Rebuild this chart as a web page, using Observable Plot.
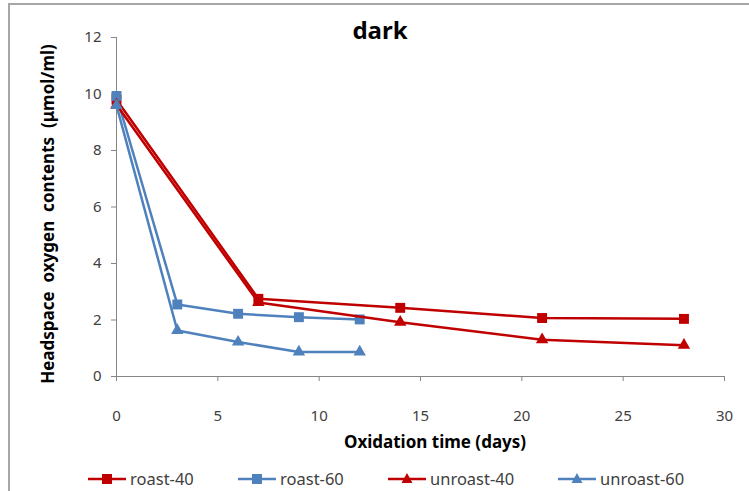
<!DOCTYPE html>
<html>
<head>
<meta charset="utf-8">
<script src="https://cdn.jsdelivr.net/npm/d3@7"></script>
<script src="https://cdn.jsdelivr.net/npm/@observablehq/plot@0.6"></script>
<style>
  html, body { margin: 0; padding: 0; background: #fff; }
  #wrap { position: relative; width: 749px; height: 491px; overflow: hidden; font-family: "Noto Sans", sans-serif; }
  #frame { position: absolute; left: 8px; top: 3px; width: 760px; height: 520px; border-top: 2px solid #a6a6a6; border-left: 2px solid #a6a6a6; box-sizing: border-box; }
  #title { position: absolute; left: 0; width: 760px; top: 13px; text-align: center; font-weight: bold; font-size: 24px; color: #000; }
  #ylab { position: absolute; left: 47px; top: 214px; transform: translate(-50%, -50%) rotate(-90deg); white-space: pre; font-weight: bold; font-size: 17px; color: #000; }
  #xlab { position: absolute; left: 435px; top: 441px; transform: translate(-50%, -50%); white-space: pre; font-weight: bold; font-size: 17px; color: #000; }
  #chart { position: absolute; left: 0; top: 0; }
  #chart svg text { fill: #404040; }
  #chart svg [aria-label$="tick"] path, #chart svg .tick line { stroke: #868686; }
  .leg { position: absolute; top: 467px; display: flex; align-items: center; font-size: 16.5px; color: #404040; }
  .leg svg { margin-right: 2px; }
</style>
</head>
<body>
<div id="wrap">
  <div id="frame"></div>
  <div id="chart"></div>
  <div id="title">dark</div>
  <div id="ylab">Headspace  oxygen  contents  (μmol/ml)</div>
  <div id="xlab">Oxidation time (days)</div>
  <div id="legend"></div>
</div>
<script>
const seriesNames = ["roast-40", "roast-60", "unroast-40", "unroast-60"];
const seriesColors = ["#C00000", "#4F81BD", "#C00000", "#4F81BD"];
const seriesSymbols = ["square", "square", "triangle", "triangle"];
const days40 = [0, 7, 14, 21, 28];
const days60 = [0, 3, 6, 9, 12];
const roast40 = [9.8, 2.75, 2.43, 2.07, 2.04];
const roast60 = [9.93, 2.55, 2.22, 2.1, 2.02];
const unroast40 = [9.62, 2.62, 1.92, 1.3, 1.11];
const unroast60 = [9.6, 1.63, 1.22, 0.87, 0.87];
const xTicks = [0, 5, 10, 15, 20, 25, 30];
const yTicks = [0, 2, 4, 6, 8, 10, 12];

const seriesDays = [days40, days60, days40, days60];
const seriesVals = [roast40, roast60, unroast40, unroast60];
const data = [];
seriesNames.forEach((name, i) => {
  seriesDays[i].forEach((d, j) => data.push({series: name, day: d, value: seriesVals[i][j], k: i}));
});

const marks = [
  Plot.ruleX([0], {stroke: "#868686", strokeWidth: 1}),
  Plot.ruleY([0], {stroke: "#868686", strokeWidth: 1})
];
seriesNames.forEach((name, i) => {
  const sub = data.filter(d => d.k === i);
  marks.push(Plot.line(sub, {x: "day", y: "value", stroke: seriesColors[i], strokeWidth: 2.5}));
  marks.push(Plot.dot(sub, {x: "day", y: "value", fill: seriesColors[i], stroke: "none", symbol: seriesSymbols[i], r: seriesSymbols[i] === "square" ? 5.6 : 4.6}));
});

const plot = Plot.plot({
  width: 749,
  height: 460,
  marginLeft: 116,
  marginRight: 25,
  marginTop: 37,
  marginBottom: 84,
  style: {fontFamily: "Noto Sans, sans-serif", fontSize: "15px", color: "#404040", background: "transparent", overflow: "visible"},
  x: {domain: [0, 30], ticks: xTicks, tickSize: 5, tickPadding: 29, label: null, tickFormat: d => String(d)},
  y: {domain: [0, 12], ticks: yTicks, tickSize: 5, tickPadding: 10, label: null, tickFormat: d => String(d)},
  marks
});
document.getElementById("chart").appendChild(plot);

// legend
const legendX = [88, 238, 388, 558];
const legend = document.getElementById("legend");
seriesNames.forEach((name, i) => {
  const item = document.createElement("div");
  item.className = "leg";
  item.style.left = legendX[i] + "px";
  const sym = seriesSymbols[i] === "square"
    ? `<rect x="14" y="6" width="10" height="10" fill="${seriesColors[i]}"/>`
    : `<path d="M19,5 L24.5,15 L13.5,15 Z" fill="${seriesColors[i]}"/>`;
  item.innerHTML = `<svg width="40" height="22"><line x1="0" x2="38" y1="11" y2="11" stroke="${seriesColors[i]}" stroke-width="2.5"/>${sym}</svg><span>${name}</span>`;
  legend.appendChild(item);
});
</script>
</body>
</html>
